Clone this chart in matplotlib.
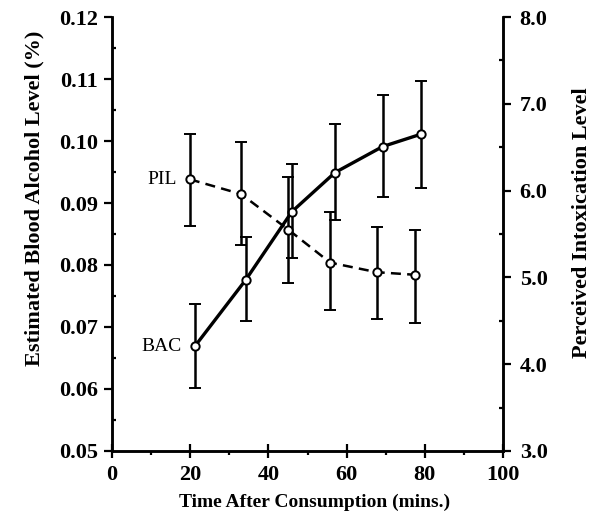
import matplotlib
matplotlib.use("Agg")
import matplotlib.pyplot as plt
from matplotlib.ticker import MultipleLocator, FormatStrFormatter

plt.rcParams['font.family'] = ['Liberation Serif', 'DejaVu Serif']

# BAC (left axis)
bac_time = [21.2, 34.2, 46.0, 57.0, 69.2, 79.0]
bac_mean = [0.0669, 0.0776, 0.0886, 0.0949, 0.0991, 0.1011]
bac_upper = [0.0737, 0.0845, 0.0963, 0.1027, 0.1074, 0.1096]
bac_lower = [0.0602, 0.0710, 0.0811, 0.0873, 0.0909, 0.0925]

# PIL (right axis)
pil_time = [19.9, 33.0, 45.1, 55.8, 67.7, 77.5]
pil_mean = [6.13, 5.96, 5.55, 5.17, 5.06, 5.03]
pil_upper = [6.65, 6.56, 6.16, 5.75, 5.58, 5.55]
pil_lower = [5.59, 5.37, 4.93, 4.62, 4.52, 4.48]

x_ticks = [0, 20, 40, 60, 80, 100]

fig = plt.figure(figsize=(5.94, 5.32), dpi=100)
ax = fig.add_axes([0.1886, 0.1523, 0.6582, 0.8157])
ax2 = ax.twinx()

bac_err = [[m - l for m, l in zip(bac_mean, bac_lower)],
           [u - m for m, u in zip(bac_mean, bac_upper)]]
pil_err = [[m - l for m, l in zip(pil_mean, pil_lower)],
           [u - m for m, u in zip(pil_mean, pil_upper)]]

ax.errorbar(bac_time, bac_mean, yerr=bac_err, color='black', lw=2.4,
            elinewidth=1.8, capsize=4, capthick=1.8, marker='o', ms=6,
            mfc='white', mec='black', mew=1.4, zorder=3)
ax2.errorbar(pil_time, pil_mean, yerr=pil_err, color='black', lw=1.8,
             ls=(0, (4, 2.5)), elinewidth=1.8, capsize=4, capthick=1.8,
             marker='o', ms=6, mfc='white', mec='black', mew=1.4, zorder=3)

ax.set_xlim(0, 100)
ax.set_ylim(0.05, 0.12)
ax2.set_ylim(3.0, 8.0)

ax.set_xticks(x_ticks)
ax.xaxis.set_minor_locator(MultipleLocator(10))
ax.yaxis.set_major_locator(MultipleLocator(0.01))
ax.yaxis.set_minor_locator(MultipleLocator(0.005))
ax.yaxis.set_major_formatter(FormatStrFormatter('%.2f'))
ax2.yaxis.set_major_locator(MultipleLocator(1.0))
ax2.yaxis.set_minor_locator(MultipleLocator(0.5))
ax2.yaxis.set_major_formatter(FormatStrFormatter('%.1f'))

for a in (ax, ax2):
    for s in a.spines.values():
        s.set_linewidth(1.8)
    a.spines['top'].set_visible(False)

ax.tick_params(axis='x', which='major', direction='inout', length=10, width=1.6,
               labelsize=16, pad=5)
ax.tick_params(axis='x', which='minor', direction='out', length=3, width=1.6)
ax.tick_params(axis='y', which='major', direction='out', length=6, width=1.6,
               labelsize=16, pad=4)
ax.tick_params(axis='y', which='minor', direction='in', length=3, width=1.6)
ax2.tick_params(axis='y', which='major', direction='out', length=6, width=1.6,
                labelsize=16, pad=6)
ax2.tick_params(axis='y', which='minor', direction='in', length=3, width=1.6)

for lab in ax.get_xticklabels() + ax.get_yticklabels() + ax2.get_yticklabels():
    lab.set_fontweight('bold')

W, H = 594.0, 532.0
fig.text(315 / W, 1 - 502 / H, 'Time After Consumption (mins.)', fontsize=14,
         fontweight='bold', ha='center', va='center')
fig.text(34 / W, 1 - 198 / H, 'Estimated Blood Alcohol Level (%)', fontsize=16,
         fontweight='bold', ha='center', va='center', rotation=90)
fig.text(582 / W, 1 - 223 / H, 'Perceived Intoxication Level', fontsize=16,
         fontweight='bold', ha='center', va='center', rotation=90)

ax2.text(16.6, 6.13, 'PIL', fontsize=14, ha='right', va='center')
ax.text(17.9, 0.0669, 'BAC', fontsize=14, ha='right', va='center')

fig.savefig('out.png', dpi=100)
